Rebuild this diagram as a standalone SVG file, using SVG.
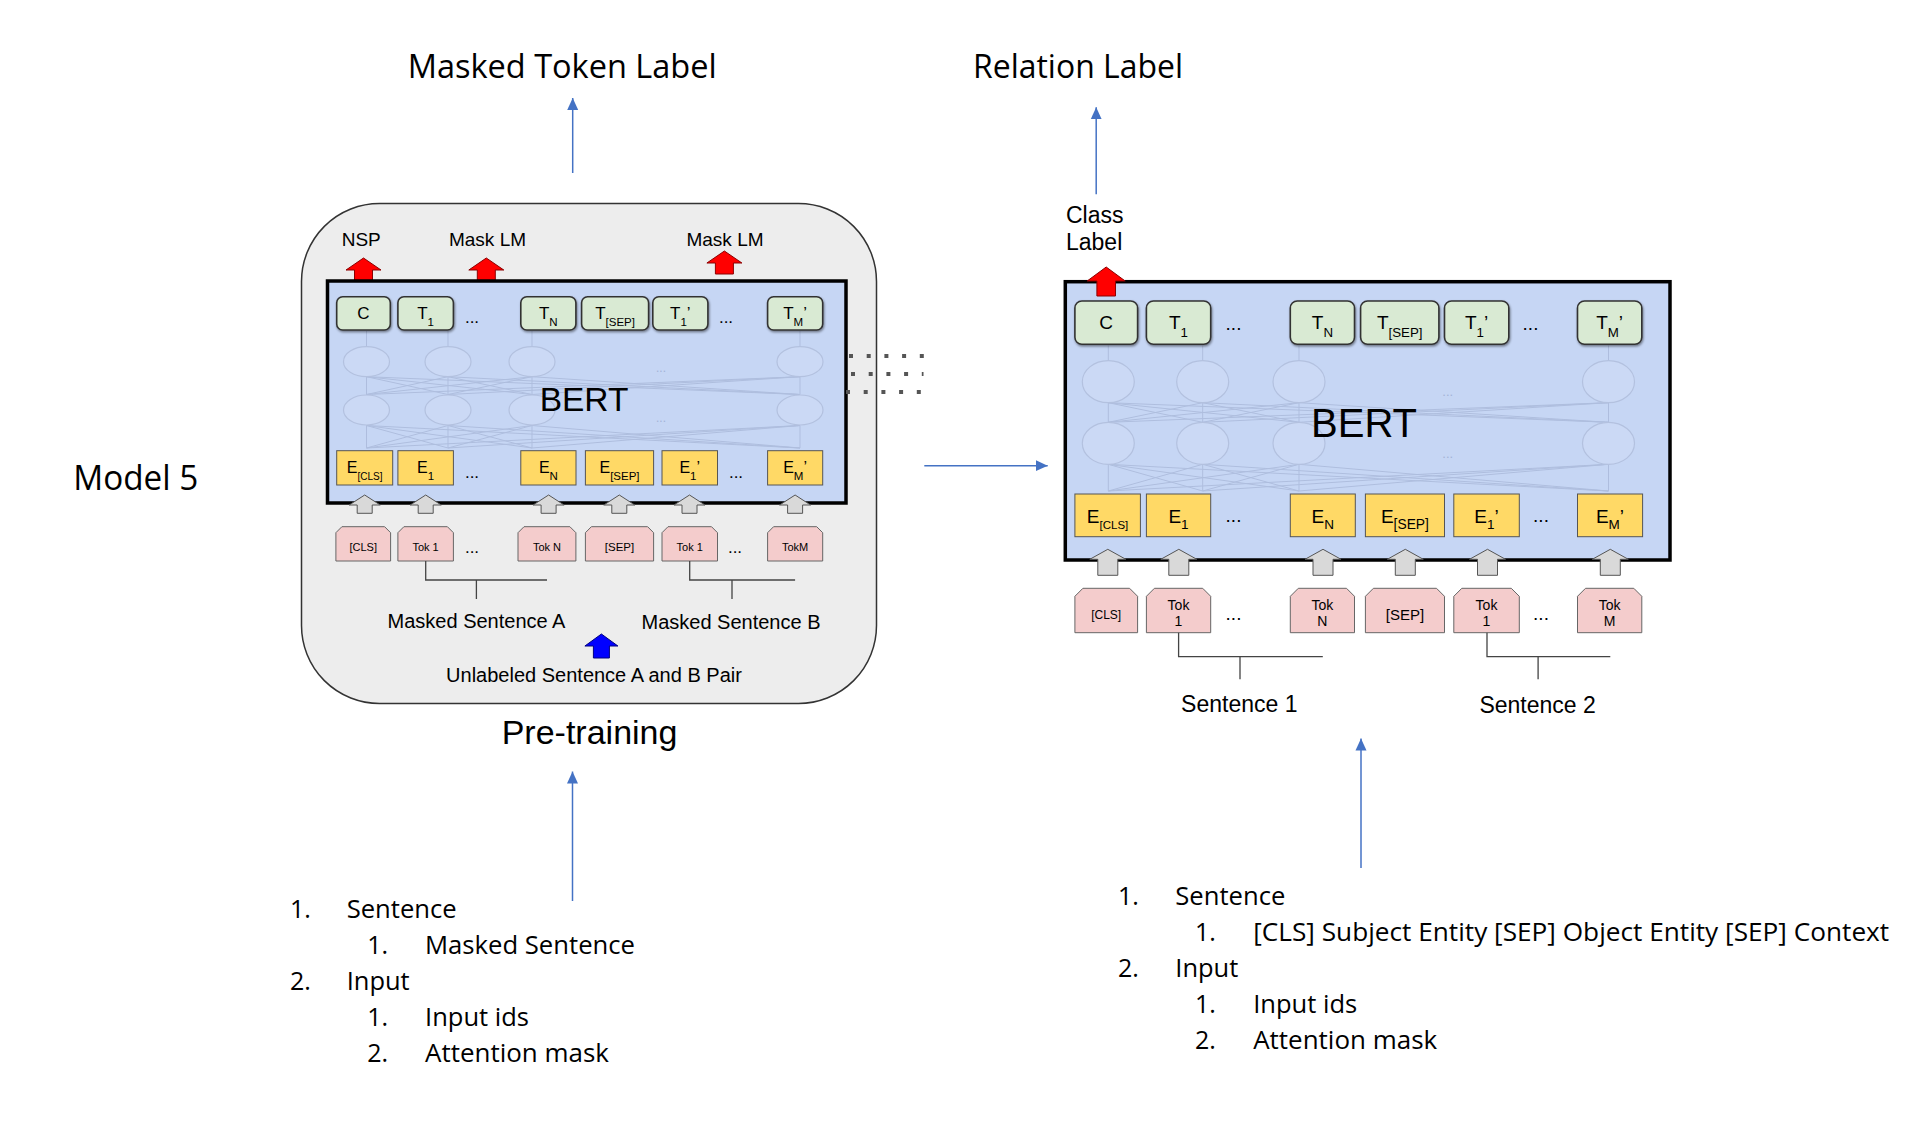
<svg xmlns="http://www.w3.org/2000/svg" width="1914" height="1132" viewBox="0 0 1914 1132">
<style>
.ar{font-family:"Liberation Sans",Arial,sans-serif;fill:#000}
.cal{font-family:"Open Sans",Lato,sans-serif;fill:#000}
.bert{fill:#c6d6f4;stroke:#000;stroke-width:3.5}
.grn{fill:#d9ead3;stroke:#333;stroke-width:1.6;filter:url(#sh)}
.yel{fill:#ffd966;stroke:#555;stroke-width:1}
.pnk{fill:#f4cccc;stroke:#666;stroke-width:1}
.garr{fill:#d9d9d9;stroke:#555;stroke-width:1}
.rarr{fill:#ff0000;stroke:#8b0000;stroke-width:1}
.barr{fill:#0000ff;stroke:#000080;stroke-width:1}
.net{fill:none;stroke:#a9b8d9;stroke-width:1;opacity:0.8}
.circ{fill:#cbd9f5;stroke:#b3c1df;stroke-width:1.2}
.faint{font-family:"Liberation Sans",Arial,sans-serif;fill:#a3b3d6}
.conn{fill:none;stroke:#4472c4;stroke-width:1.5}
.brk{fill:none;stroke:#444;stroke-width:1.3}
.dots{fill:none;stroke:#555;stroke-width:4}
</style>
<defs>
<filter id="sh" x="-10%" y="-10%" width="130%" height="140%"><feDropShadow dx="0.8" dy="1.5" stdDeviation="0.8" flood-color="#000" flood-opacity="0.45"/></filter>
<marker id="ah" markerWidth="12" markerHeight="12" refX="12" refY="6" orient="auto" markerUnits="userSpaceOnUse"><path d="M0 0.5 L12 6 L0 11.5 Z" fill="#4472c4"/></marker>
<path id="gaL" d="M0 0 L15.5 10 L7.5 10 L7.5 18.3 L-7.5 18.3 L-7.5 10 L-15.5 10 Z"/>
<path id="gaR" d="M0 0 L18 10 L10 10 L10 26 L-10 26 L-10 10 L-18 10 Z"/>
<path id="raL" d="M0 0 L17.5 12 L9 12 L9 23 L-9 23 L-9 12 L-17.5 12 Z"/>
<path id="raR" d="M0 0 L19 14 L9.3 14 L9.3 29 L-9.3 29 L-9.3 14 L-19 14 Z"/>
</defs>
<rect width="1914" height="1132" fill="#fff"/>

<!-- titles -->
<g id="title-masked-token-label"><text class="cal" x="407.7" y="77.7" font-size="33" textLength="309" lengthAdjust="spacingAndGlyphs">Masked Token Label</text></g>
<g id="title-relation-label"><text class="cal" x="973" y="78" font-size="33" textLength="210" lengthAdjust="spacingAndGlyphs">Relation Label</text></g>
<g id="title-model5"><text class="cal" x="73.3" y="490" font-size="34" textLength="125" lengthAdjust="spacingAndGlyphs">Model 5</text></g>

<!-- pre-training panel -->
<g id="pretraining-panel">
<rect x="301.5" y="203.5" width="575" height="500" rx="78" ry="78" fill="#ededed" stroke="#333" stroke-width="1.5"/>
<text class="ar" x="341.7" y="245.7" font-size="19">NSP</text>
<text class="ar" x="487.5" y="245.7" font-size="19" text-anchor="middle">Mask LM</text>
<text class="ar" x="725" y="245.7" font-size="19" text-anchor="middle">Mask LM</text>
<use href="#raL" x="363.5" y="258" class="rarr"/>
<use href="#raL" x="486.3" y="258" class="rarr"/>
<use href="#raL" x="724.4" y="251" class="rarr"/>
<text class="ar" x="476.5" y="628.3" font-size="20" text-anchor="middle">Masked Sentence A</text>
<text class="ar" x="731" y="629" font-size="20" text-anchor="middle">Masked Sentence B</text>
<path class="barr" d="M601.4 634 L617.9 646 L609.4 646 L609.4 658 L593.4 658 L593.4 646 L584.9 646 Z"/>
<text class="ar" x="594" y="681.7" font-size="20" text-anchor="middle">Unlabeled Sentence A and B Pair</text>
</g>
<g id="pretraining-label"><text class="ar" x="501.7" y="744.3" font-size="34">Pre-training</text></g>

<!-- left BERT -->
<g id="bert-left">
<rect class="bert" x="327.5" y="281" width="518.5" height="222"/>
<g class="net">
<path d="M366.5 448L366.5 425.5M366.5 448L448 425.5M366.5 448L532 425.5M366.5 448L800 425.5M448 448L366.5 425.5M448 448L448 425.5M448 448L532 425.5M448 448L800 425.5M532 448L366.5 425.5M532 448L448 425.5M532 448L532 425.5M532 448L800 425.5M800 448L366.5 425.5M800 448L448 425.5M800 448L532 425.5M800 448L800 425.5"/>
<path d="M366.5 394.5L366.5 376.7M366.5 394.5L448 376.7M366.5 394.5L532 376.7M366.5 394.5L800 376.7M448 394.5L366.5 376.7M448 394.5L448 376.7M448 394.5L532 376.7M448 394.5L800 376.7M532 394.5L366.5 376.7M532 394.5L448 376.7M532 394.5L532 376.7M532 394.5L800 376.7M800 394.5L366.5 376.7M800 394.5L448 376.7M800 394.5L532 376.7M800 394.5L800 376.7"/>
<path d="M366.5 346.7L366.5 331M448 346.7L448 331M532 346.7L532 331M800 346.7L800 331"/>
</g>
<g>
<ellipse class="circ" cx="366.5" cy="361.7" rx="23" ry="15"/><ellipse class="circ" cx="448" cy="361.7" rx="23" ry="15"/><ellipse class="circ" cx="532" cy="361.7" rx="23" ry="15"/><ellipse class="circ" cx="800" cy="361.7" rx="23" ry="15"/>
<ellipse class="circ" cx="366.5" cy="410" rx="23" ry="15"/><ellipse class="circ" cx="448" cy="410" rx="23" ry="15"/><ellipse class="circ" cx="532" cy="410" rx="23" ry="15"/><ellipse class="circ" cx="800" cy="410" rx="23" ry="15"/>
</g>
<text class="faint" x="661" y="372" font-size="12" text-anchor="middle">...</text>
<text class="faint" x="661" y="422" font-size="12" text-anchor="middle">...</text>
<text class="ar" x="584" y="410.7" font-size="33.5" text-anchor="middle">BERT</text>
</g>

<g id="left-T">
<rect class="grn" x="336.7" y="296.7" width="53.6" height="33.3" rx="6"/>
<rect class="grn" x="397.9" y="296.7" width="55.5" height="33.3" rx="6"/>
<rect class="grn" x="520.8" y="296.7" width="55.1" height="33.3" rx="6"/>
<rect class="grn" x="581.6" y="296.7" width="67" height="33.3" rx="6"/>
<rect class="grn" x="652.8" y="296.7" width="55.1" height="33.3" rx="6"/>
<rect class="grn" x="767.6" y="296.7" width="55.1" height="33.3" rx="6"/>
<text class="ar" x="363.5" y="319.3" font-size="17" text-anchor="middle">C</text>
<text class="ar" x="425.6" y="319.3" font-size="17" text-anchor="middle">T<tspan font-size="11.5" dy="7">1</tspan></text>
<text class="ar" x="548.3" y="319.3" font-size="17" text-anchor="middle">T<tspan font-size="11.5" dy="7">N</tspan></text>
<text class="ar" x="615.1" y="319.3" font-size="17" text-anchor="middle">T<tspan font-size="11.5" dy="7">[SEP]</tspan></text>
<text class="ar" x="680.3" y="319.3" font-size="17" text-anchor="middle">T<tspan font-size="11.5" dy="7">1</tspan><tspan dy="-7">’</tspan></text>
<text class="ar" x="795.1" y="319.3" font-size="17" text-anchor="middle">T<tspan font-size="11.5" dy="7">M</tspan><tspan dy="-7">’</tspan></text>
<text class="ar" x="472" y="323" font-size="17" text-anchor="middle">...</text>
<text class="ar" x="726" y="323" font-size="17" text-anchor="middle">...</text>
</g>

<g id="left-E">
<rect class="yel" x="336.7" y="450.7" width="56" height="34.3"/>
<rect class="yel" x="397.9" y="450.7" width="55.5" height="34.3"/>
<rect class="yel" x="520.8" y="450.7" width="55.2" height="34.3"/>
<rect class="yel" x="585.4" y="450.7" width="68.2" height="34.3"/>
<rect class="yel" x="662" y="450.7" width="55.5" height="34.3"/>
<rect class="yel" x="767.6" y="450.7" width="55.1" height="34.3"/>
<text class="ar" x="364.7" y="473.3" font-size="16" text-anchor="middle">E<tspan font-size="10" dy="6.5">[CLS]</tspan></text>
<text class="ar" x="425.6" y="473.3" font-size="16" text-anchor="middle">E<tspan font-size="11.5" dy="6.5">1</tspan></text>
<text class="ar" x="548.4" y="473.3" font-size="16" text-anchor="middle">E<tspan font-size="11.5" dy="6.5">N</tspan></text>
<text class="ar" x="619.5" y="473.3" font-size="16" text-anchor="middle">E<tspan font-size="11.5" dy="6.5">[SEP]</tspan></text>
<text class="ar" x="689.7" y="473.3" font-size="16" text-anchor="middle">E<tspan font-size="11.5" dy="6.5">1</tspan><tspan dy="-6.5">’</tspan></text>
<text class="ar" x="795.1" y="473.3" font-size="16" text-anchor="middle">E<tspan font-size="11.5" dy="6.5">M</tspan><tspan dy="-6.5">’</tspan></text>
<text class="ar" x="472" y="478" font-size="17" text-anchor="middle">...</text>
<text class="ar" x="736" y="478" font-size="17" text-anchor="middle">...</text>
</g>

<g id="left-input-arrows">
<use href="#gaL" x="364.7" y="495" class="garr"/>
<use href="#gaL" x="425.7" y="495" class="garr"/>
<use href="#gaL" x="548.6" y="495" class="garr"/>
<use href="#gaL" x="619.3" y="495" class="garr"/>
<use href="#gaL" x="689.5" y="495" class="garr"/>
<use href="#gaL" x="795.1" y="495" class="garr"/>
</g>

<g id="left-tokens">
<path class="pnk" d="M335.9 532.7 L341.9 526.7 L384.6 526.7 L390.6 532.7 L390.6 561 L335.9 561 Z"/>
<path class="pnk" d="M397.9 532.7 L403.9 526.7 L447.4 526.7 L453.4 532.7 L453.4 561 L397.9 561 Z"/>
<path class="pnk" d="M518 532.7 L524 526.7 L569.9 526.7 L575.9 532.7 L575.9 561 L518 561 Z"/>
<path class="pnk" d="M585.4 532.7 L591.4 526.7 L647.6 526.7 L653.6 532.7 L653.6 561 L585.4 561 Z"/>
<path class="pnk" d="M662 532.7 L668 526.7 L711.5 526.7 L717.5 532.7 L717.5 561 L662 561 Z"/>
<path class="pnk" d="M767.6 532.7 L773.6 526.7 L816.7 526.7 L822.7 532.7 L822.7 561 L767.6 561 Z"/>
<text class="ar" x="363.2" y="551" font-size="11" text-anchor="middle">[CLS]</text>
<text class="ar" x="425.6" y="551" font-size="11" text-anchor="middle">Tok 1</text>
<text class="ar" x="547" y="551" font-size="11" text-anchor="middle">Tok N</text>
<text class="ar" x="619.5" y="551" font-size="11.5" text-anchor="middle">[SEP]</text>
<text class="ar" x="689.7" y="551" font-size="11" text-anchor="middle">Tok 1</text>
<text class="ar" x="795.1" y="551" font-size="11" text-anchor="middle">TokM</text>
<text class="ar" x="472" y="553" font-size="17" text-anchor="middle">...</text>
<text class="ar" x="735" y="553" font-size="17" text-anchor="middle">...</text>
</g>

<!-- right BERT -->
<g id="class-label"><text class="ar" x="1066" y="223.3" font-size="23">Class</text><text class="ar" x="1066" y="250" font-size="23">Label</text></g>
<g id="bert-right">
<rect class="bert" x="1065.3" y="281.7" width="604.7" height="278.3"/>
<g class="net">
<path d="M1108.3 491L1108.3 464.3M1108.3 491L1202.7 464.3M1108.3 491L1299 464.3M1108.3 491L1608.5 464.3M1202.7 491L1108.3 464.3M1202.7 491L1202.7 464.3M1202.7 491L1299 464.3M1202.7 491L1608.5 464.3M1299 491L1108.3 464.3M1299 491L1202.7 464.3M1299 491L1299 464.3M1299 491L1608.5 464.3M1608.5 491L1108.3 464.3M1608.5 491L1202.7 464.3M1608.5 491L1299 464.3M1608.5 491L1608.5 464.3"/>
<path d="M1108.3 422.3L1108.3 402.7M1108.3 422.3L1202.7 402.7M1108.3 422.3L1299 402.7M1108.3 422.3L1608.5 402.7M1202.7 422.3L1108.3 402.7M1202.7 422.3L1202.7 402.7M1202.7 422.3L1299 402.7M1202.7 422.3L1608.5 402.7M1299 422.3L1108.3 402.7M1299 422.3L1202.7 402.7M1299 422.3L1299 402.7M1299 422.3L1608.5 402.7M1608.5 422.3L1108.3 402.7M1608.5 422.3L1202.7 402.7M1608.5 422.3L1299 402.7M1608.5 422.3L1608.5 402.7"/>
<path d="M1108.3 360.7L1108.3 345.5M1202.7 360.7L1202.7 345.5M1299 360.7L1299 345.5M1608.5 360.7L1608.5 345.5"/>
</g>
<g>
<ellipse class="circ" cx="1108.3" cy="381.7" rx="26" ry="21"/><ellipse class="circ" cx="1202.7" cy="381.7" rx="26" ry="21"/><ellipse class="circ" cx="1299" cy="381.7" rx="26" ry="21"/><ellipse class="circ" cx="1608.5" cy="381.7" rx="26" ry="21"/>
<ellipse class="circ" cx="1108.3" cy="443.3" rx="26" ry="21"/><ellipse class="circ" cx="1202.7" cy="443.3" rx="26" ry="21"/><ellipse class="circ" cx="1299" cy="443.3" rx="26" ry="21"/><ellipse class="circ" cx="1608.5" cy="443.3" rx="26" ry="21"/>
</g>
<text class="faint" x="1447.7" y="395.5" font-size="13" text-anchor="middle">...</text>
<text class="faint" x="1447.7" y="458" font-size="13" text-anchor="middle">...</text>
<text class="ar" x="1364" y="436.7" font-size="40" text-anchor="middle">BERT</text>
</g>
<use href="#raR" x="1106.2" y="267" class="rarr"/>

<g id="right-T">
<rect class="grn" x="1074.9" y="301" width="62.7" height="43.3" rx="7"/>
<rect class="grn" x="1146.4" y="301" width="64.3" height="43.3" rx="7"/>
<rect class="grn" x="1290.3" y="301" width="64.2" height="43.3" rx="7"/>
<rect class="grn" x="1360.6" y="301" width="78.3" height="43.3" rx="7"/>
<rect class="grn" x="1444.5" y="301" width="64.3" height="43.3" rx="7"/>
<rect class="grn" x="1577.5" y="301" width="64.3" height="43.3" rx="7"/>
<text class="ar" x="1106.2" y="329.3" font-size="19" text-anchor="middle">C</text>
<text class="ar" x="1178.5" y="329.3" font-size="19" text-anchor="middle">T<tspan font-size="13.3" dy="8">1</tspan></text>
<text class="ar" x="1322.4" y="329.3" font-size="19" text-anchor="middle">T<tspan font-size="13.3" dy="8">N</tspan></text>
<text class="ar" x="1399.7" y="329.3" font-size="19" text-anchor="middle">T<tspan font-size="13.3" dy="8">[SEP]</tspan></text>
<text class="ar" x="1476.6" y="329.3" font-size="19" text-anchor="middle">T<tspan font-size="13.3" dy="8">1</tspan><tspan dy="-8">’</tspan></text>
<text class="ar" x="1609.6" y="329.3" font-size="19" text-anchor="middle">T<tspan font-size="13.3" dy="8">M</tspan><tspan dy="-8">’</tspan></text>
<text class="ar" x="1233.5" y="330" font-size="19" text-anchor="middle">...</text>
<text class="ar" x="1530.5" y="330" font-size="19" text-anchor="middle">...</text>
</g>

<g id="right-E">
<rect class="yel" x="1074.9" y="494" width="65.5" height="42.7"/>
<rect class="yel" x="1146.4" y="494" width="64.3" height="42.7"/>
<rect class="yel" x="1290.3" y="494" width="65" height="42.7"/>
<rect class="yel" x="1365.4" y="494" width="79.1" height="42.7"/>
<rect class="yel" x="1453.8" y="494" width="65.5" height="42.7"/>
<rect class="yel" x="1577.5" y="494" width="65.1" height="42.7"/>
<text class="ar" x="1107.6" y="522.7" font-size="19" text-anchor="middle">E<tspan font-size="11.5" dy="6">[CLS]</tspan></text>
<text class="ar" x="1178.5" y="522.7" font-size="19" text-anchor="middle">E<tspan font-size="13.5" dy="6">1</tspan></text>
<text class="ar" x="1322.8" y="522.7" font-size="19" text-anchor="middle">E<tspan font-size="13.5" dy="6">N</tspan></text>
<text class="ar" x="1404.9" y="522.7" font-size="19" text-anchor="middle">E<tspan font-size="13.8" dy="6">[SEP]</tspan></text>
<text class="ar" x="1486.5" y="522.7" font-size="19" text-anchor="middle">E<tspan font-size="13.5" dy="6">1</tspan><tspan dy="-6">’</tspan></text>
<text class="ar" x="1610" y="522.7" font-size="19" text-anchor="middle">E<tspan font-size="13.5" dy="6">M</tspan><tspan dy="-6">’</tspan></text>
<text class="ar" x="1233.5" y="522" font-size="19" text-anchor="middle">...</text>
<text class="ar" x="1541" y="522" font-size="19" text-anchor="middle">...</text>
</g>

<g id="right-input-arrows">
<use href="#gaR" x="1107.8" y="549.3" class="garr"/>
<use href="#gaR" x="1178.8" y="549.3" class="garr"/>
<use href="#gaR" x="1323" y="549.3" class="garr"/>
<use href="#gaR" x="1405.3" y="549.3" class="garr"/>
<use href="#gaR" x="1487.5" y="549.3" class="garr"/>
<use href="#gaR" x="1610.3" y="549.3" class="garr"/>
</g>

<g id="right-tokens">
<path class="pnk" d="M1074.9 596.3 L1082.9 588.3 L1129.6 588.3 L1137.6 596.3 L1137.6 632.7 L1074.9 632.7 Z"/>
<path class="pnk" d="M1146.4 596.3 L1154.4 588.3 L1202.7 588.3 L1210.7 596.3 L1210.7 632.7 L1146.4 632.7 Z"/>
<path class="pnk" d="M1290.3 596.3 L1298.3 588.3 L1346.5 588.3 L1354.5 596.3 L1354.5 632.7 L1290.3 632.7 Z"/>
<path class="pnk" d="M1365.4 596.3 L1373.4 588.3 L1436.5 588.3 L1444.5 596.3 L1444.5 632.7 L1365.4 632.7 Z"/>
<path class="pnk" d="M1453.8 596.3 L1461.8 588.3 L1511.3 588.3 L1519.3 596.3 L1519.3 632.7 L1453.8 632.7 Z"/>
<path class="pnk" d="M1577.5 596.3 L1585.5 588.3 L1633.8 588.3 L1641.8 596.3 L1641.8 632.7 L1577.5 632.7 Z"/>
<text class="ar" x="1106.2" y="619.3" font-size="12" text-anchor="middle">[CLS]</text>
<text class="ar" x="1178.5" y="610" font-size="14" text-anchor="middle">Tok</text><text class="ar" x="1178.5" y="625.7" font-size="14" text-anchor="middle">1</text>
<text class="ar" x="1322.4" y="610" font-size="14" text-anchor="middle">Tok</text><text class="ar" x="1322.4" y="625.7" font-size="14" text-anchor="middle">N</text>
<text class="ar" x="1404.9" y="620" font-size="15" text-anchor="middle">[SEP]</text>
<text class="ar" x="1486.5" y="610" font-size="14" text-anchor="middle">Tok</text><text class="ar" x="1486.5" y="625.7" font-size="14" text-anchor="middle">1</text>
<text class="ar" x="1609.6" y="610" font-size="14" text-anchor="middle">Tok</text><text class="ar" x="1609.6" y="625.7" font-size="14" text-anchor="middle">M</text>
<text class="ar" x="1233.5" y="620" font-size="19" text-anchor="middle">...</text>
<text class="ar" x="1541" y="620" font-size="19" text-anchor="middle">...</text>
</g>
<g id="sentence-labels">
<text class="ar" x="1239.3" y="711.7" font-size="23" text-anchor="middle">Sentence 1</text>
<text class="ar" x="1537.6" y="713.3" font-size="23" text-anchor="middle">Sentence 2</text>
</g>

<!-- lists -->
<g id="list-left">
<text class="cal" x="290" y="918" font-size="25">1.</text><text class="cal" x="346.7" y="918" font-size="25" textLength="110" lengthAdjust="spacingAndGlyphs">Sentence</text>
<text class="cal" x="367.3" y="954" font-size="25">1.</text><text class="cal" x="425" y="954" font-size="25" textLength="210" lengthAdjust="spacingAndGlyphs">Masked Sentence</text>
<text class="cal" x="290" y="990" font-size="25">2.</text><text class="cal" x="346.7" y="990" font-size="25" textLength="63" lengthAdjust="spacingAndGlyphs">Input</text>
<text class="cal" x="367.3" y="1026" font-size="25">1.</text><text class="cal" x="425" y="1026" font-size="25" textLength="104" lengthAdjust="spacingAndGlyphs">Input ids</text>
<text class="cal" x="367.3" y="1062" font-size="25">2.</text><text class="cal" x="425" y="1062" font-size="25" textLength="184" lengthAdjust="spacingAndGlyphs">Attention mask</text>
</g>
<g id="list-right">
<text class="cal" x="1118" y="905" font-size="25">1.</text><text class="cal" x="1175.3" y="905" font-size="25" textLength="110" lengthAdjust="spacingAndGlyphs">Sentence</text>
<text class="cal" x="1195" y="941" font-size="25">1.</text><text class="cal" x="1253.2" y="941" font-size="25" textLength="636" lengthAdjust="spacingAndGlyphs">[CLS] Subject Entity [SEP] Object Entity [SEP] Context</text>
<text class="cal" x="1118" y="977" font-size="25">2.</text><text class="cal" x="1175.3" y="977" font-size="25" textLength="63" lengthAdjust="spacingAndGlyphs">Input</text>
<text class="cal" x="1195" y="1013" font-size="25">1.</text><text class="cal" x="1253.2" y="1013" font-size="25" textLength="104" lengthAdjust="spacingAndGlyphs">Input ids</text>
<text class="cal" x="1195" y="1049" font-size="25">2.</text><text class="cal" x="1253.2" y="1049" font-size="25" textLength="184" lengthAdjust="spacingAndGlyphs">Attention mask</text>
</g>

<!-- connectors -->
<g id="connectors">
<path class="conn" d="M572.7 173 L572.7 98" marker-end="url(#ah)"/>
<path class="conn" d="M1096.2 194.3 L1096.2 107.3" marker-end="url(#ah)"/>
<path class="conn" d="M572.5 901 L572.5 771.5" marker-end="url(#ah)"/>
<path class="conn" d="M1361 868 L1361 738.5" marker-end="url(#ah)"/>
<path class="conn" d="M924.3 465.7 L1047.7 465.7" marker-end="url(#ah)"/>
<path class="brk" d="M425.7 561 V580 H547 M476.4 580 V599 M689.7 561 V580 H795.1 M732 580 V599"/>
<path class="brk" d="M1178.6 632.7 V656.7 H1322.8 M1240 656.7 V679.3 M1487 632.7 V656.7 H1610.3 M1538.1 656.7 V679.3"/>
<path class="dots" d="M849 356 H923.8" stroke-dasharray="4 13.7"/>
<path class="dots" d="M851 374 H923.5" stroke-dasharray="4 13.7"/>
<path class="dots" d="M846 392 H920.8" stroke-dasharray="4 13.7"/>
</g>
</svg>
